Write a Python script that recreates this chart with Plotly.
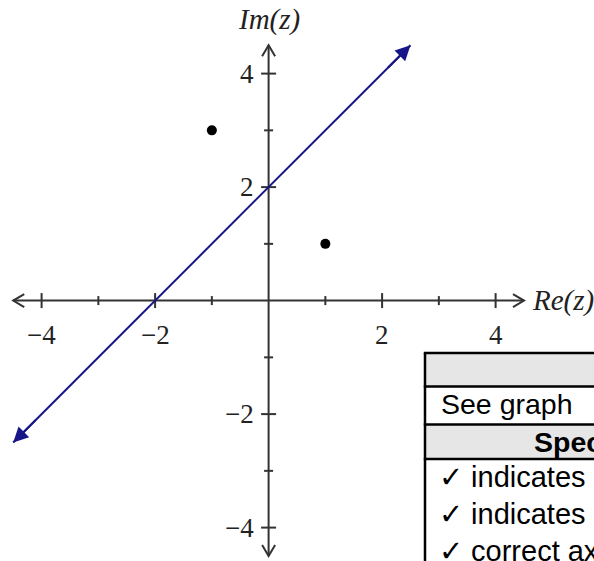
import plotly.graph_objects as go

# ---------------- data ----------------
line_x = [-4.5, 2.5]          # locus line y = x + 2 (arrow ends)
line_y = [-2.5, 4.5]
pts_x = [-1, 1]               # points -1+3i and 1+i
pts_y = [3, 1]
x_ticks = [-4, -3, -2, -1, 1, 2, 3, 4]
y_ticks = [-4, -3, -2, -1, 1, 2, 3, 4]
x_label_vals = [-4, -2, 2, 4]
x_label_text = ["−4", "−2", "2", "4"]
y_label_vals = [-4, -2, 2, 4]
y_label_text = ["−4", "−2", "2", "4"]
axis_ext = 4.5
x_title = "Re(z)"
y_title = "Im(z)"
table_header = "Solution"
table_solution = "See graph"
table_spec_header = "Specific behaviours"
table_items = ["✓ indicates points −1 + 3i and 1 + i",
               "✓ indicates perpendicular bisector",
               "✓ correct axes labelled"]

# ---------------- layout helpers ----------------
W, H = 594, 561
UNIT = 56.75
OX, OY = 268.6, 300.6
xr = [-OX / UNIT, (W - OX) / UNIT]
yr = [-(H - OY) / UNIT, OY / UNIT]


def px(x):
    return x / W


def py(y):
    return 1 - y / H


AX_COL = "#333333"
LINE_COL = "#161688"
TXT_COL = "#222222"
SERIF = "Liberation Serif"
SANS = "Liberation Sans"
SANS_SIZE = 28.5
ITEM_SIZE = 29

fig = go.Figure()

# axes lines
fig.add_trace(go.Scatter(x=[-axis_ext, axis_ext, None, 0, 0], y=[0, 0, None, -axis_ext, axis_ext],
                         mode="lines", line=dict(color=AX_COL, width=2), hoverinfo="skip"))

# open chevron arrowheads on the axes
cl, cw = 11 / UNIT, 6.5 / UNIT
chev_x = [-axis_ext + cl, -axis_ext, -axis_ext + cl, None,
          axis_ext - cl, axis_ext, axis_ext - cl, None,
          -cw, 0, cw, None,
          -cw, 0, cw]
chev_y = [cw, 0, -cw, None,
          cw, 0, -cw, None,
          axis_ext - cl, axis_ext, axis_ext - cl, None,
          -axis_ext + cl, -axis_ext, -axis_ext + cl]
fig.add_trace(go.Scatter(x=chev_x, y=chev_y, mode="lines",
                         line=dict(color=AX_COL, width=2), hoverinfo="skip"))

# tick marks (crossing the axis)
tx, ty = [], []
for t in x_ticks:
    L = (7.5 if t % 2 == 0 else 4.5) / UNIT
    tx += [t, t, None]
    ty += [-L, L, None]
for t in y_ticks:
    L = (7.5 if t % 2 == 0 else 4.5) / UNIT
    tx += [-L, L, None]
    ty += [t, t, None]
fig.add_trace(go.Scatter(x=tx, y=ty, mode="lines", line=dict(color=AX_COL, width=2),
                         hoverinfo="skip"))

# locus line
fig.add_trace(go.Scatter(x=line_x, y=line_y, mode="lines",
                         line=dict(color=LINE_COL, width=2), hoverinfo="skip"))

# points
fig.add_trace(go.Scatter(x=pts_x, y=pts_y, mode="markers",
                         marker=dict(color="black", size=10), hoverinfo="skip"))

annotations = []
# arrowheads on the locus line (both ends)
dx = line_x[1] - line_x[0]
dy = line_y[1] - line_y[0]
f = 0.06
annotations.append(dict(x=line_x[1], y=line_y[1], ax=line_x[1] - f * dx, ay=line_y[1] - f * dy,
                        xref="x", yref="y", axref="x", ayref="y", text="", showarrow=True,
                        arrowhead=2, arrowsize=1.5, arrowwidth=2, arrowcolor=LINE_COL))
annotations.append(dict(x=line_x[0], y=line_y[0], ax=line_x[0] + f * dx, ay=line_y[0] + f * dy,
                        xref="x", yref="y", axref="x", ayref="y", text="", showarrow=True,
                        arrowhead=2, arrowsize=1.5, arrowwidth=2, arrowcolor=LINE_COL))

# tick labels
for v, s in zip(x_label_vals, x_label_text):
    annotations.append(dict(x=v, y=0, xref="x", yref="y", text=s, showarrow=False,
                            yanchor="middle", xanchor="center", yshift=-34,
                            font=dict(family=SERIF, size=27, color=TXT_COL)))
for v, s in zip(y_label_vals, y_label_text):
    annotations.append(dict(x=0, y=v, xref="x", yref="y", text=s, showarrow=False,
                            yanchor="middle", xanchor="right", xshift=-13,
                            font=dict(family=SERIF, size=27, color=TXT_COL)))

# axis titles
annotations.append(dict(x=0, y=py(20), xref="x", yref="paper", text="<i>" + y_title + "</i>",
                        showarrow=False, xanchor="center", yanchor="middle",
                        font=dict(family=SERIF, size=29, color=TXT_COL)))
annotations.append(dict(x=px(530), y=0, xref="paper", yref="y", text="<i>" + x_title + "</i>",
                        showarrow=False, xanchor="left", yanchor="middle",
                        font=dict(family=SERIF, size=29, color=TXT_COL)))

# ---------------- table (partially visible, as in the reference) ----------------
TL, TR = 425, 800
rows = [353, 386.5, 424.5, 459]
shapes = []
shapes.append(dict(type="rect", xref="paper", yref="paper", x0=px(TL), x1=px(TR),
                   y0=py(rows[1]), y1=py(rows[0]), fillcolor="#e6e6e6", line=dict(width=0),
                   layer="below"))
shapes.append(dict(type="rect", xref="paper", yref="paper", x0=px(TL), x1=px(TR),
                   y0=py(rows[3]), y1=py(rows[2]), fillcolor="#e6e6e6", line=dict(width=0),
                   layer="below"))
for r in rows:
    shapes.append(dict(type="line", xref="paper", yref="paper", x0=px(TL - 1.2), x1=px(TR),
                       y0=py(r), y1=py(r), line=dict(color="black", width=2.5)))
shapes.append(dict(type="line", xref="paper", yref="paper", x0=px(TL), x1=px(TL),
                   y0=py(rows[0]), y1=py(H + 40), line=dict(color="black", width=2.5)))

TCX = 668
annotations.append(dict(x=px(TCX), y=py((rows[0] + rows[1]) / 2), xref="paper", yref="paper",
                        text="<b>" + table_header + "</b>", showarrow=False,
                        xanchor="center", yanchor="middle",
                        font=dict(family=SANS, size=SANS_SIZE, color="black")))
annotations.append(dict(x=px(439), y=py(404), xref="paper", yref="paper",
                        text=table_solution, showarrow=False, xanchor="left", yanchor="middle",
                        font=dict(family=SANS, size=SANS_SIZE, color="black")))
annotations.append(dict(x=px(TCX), y=py(442), xref="paper", yref="paper",
                        text="<b>" + table_spec_header + "</b>", showarrow=False,
                        xanchor="center", yanchor="middle",
                        font=dict(family=SANS, size=SANS_SIZE, color="black")))
for i, item in enumerate(table_items):
    annotations.append(dict(x=px(437), y=py(477 + 37 * i), xref="paper", yref="paper",
                            text=item, showarrow=False, xanchor="left", yanchor="middle",
                            font=dict(family=SANS, size=ITEM_SIZE, color="black")))

fig.update_layout(
    width=W, height=H, autosize=False,
    margin=dict(l=0, r=0, t=0, b=0, pad=0),
    paper_bgcolor="white", plot_bgcolor="white",
    showlegend=False,
    xaxis=dict(range=xr, visible=False, fixedrange=True),
    yaxis=dict(range=yr, visible=False, fixedrange=True),
    annotations=annotations,
    shapes=shapes,
)

fig.write_html("out.html", config={"displayModeBar": False},
               post_script="document.body.style.margin='0';document.body.style.overflow='hidden';")
